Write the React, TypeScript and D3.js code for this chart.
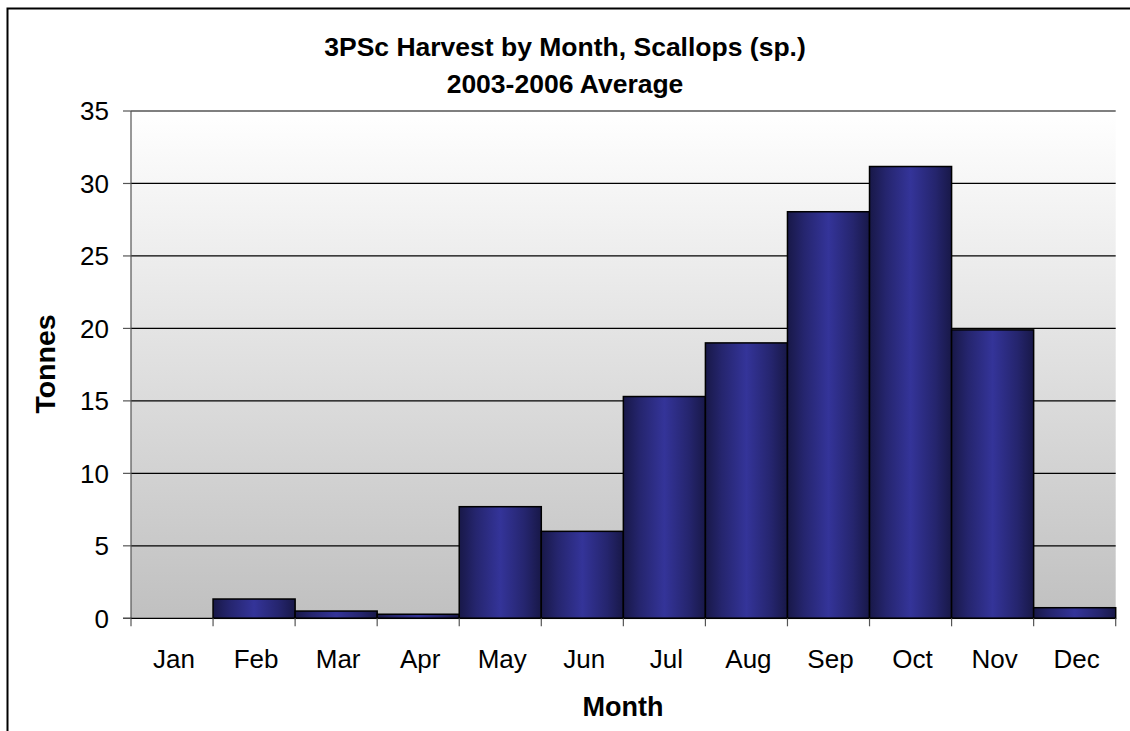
import React from "react";
import * as d3 from "d3";

const months = ["Jan", "Feb", "Mar", "Apr", "May", "Jun", "Jul", "Aug", "Sep", "Oct", "Nov", "Dec"];
const tonnes = [0, 1.33, 0.5, 0.28, 7.7, 6.0, 15.3, 19.0, 28.05, 31.17, 19.9, 0.73];
const yTicks = [0, 5, 10, 15, 20, 25, 30, 35];
const titleLines = ["3PSc Harvest by Month, Scallops (sp.)", "2003-2006 Average"];
const xTitle = "Month";
const yTitle = "Tonnes";

const W = 1130;
const H = 731;
const left = 131;
const right = 1115.7;
const top = 111;
const bottom = 618.3;
const font = "Arial, 'Liberation Sans', sans-serif";

export default function App() {
  const x = d3.scaleBand<string>().domain(months).range([left, right]).padding(0);
  const y = d3.scaleLinear().domain([0, 35]).range([bottom, top]);
  const bw = x.bandwidth();

  return (
    <svg width={W} height={H} style={{ position: "absolute", left: 0, top: 0 }}>
      <defs>
        <linearGradient id="bg" x1="0" y1="0" x2="0" y2="1">
          <stop offset="0" stopColor="#ffffff" />
          <stop offset="1" stopColor="#c0c0c0" />
        </linearGradient>
        <linearGradient id="bar" x1="0" y1="0" x2="1" y2="0">
          <stop offset="0" stopColor="#181848" />
          <stop offset="0.2" stopColor="#25256e" />
          <stop offset="0.5" stopColor="#343499" />
          <stop offset="0.8" stopColor="#25256e" />
          <stop offset="1" stopColor="#181848" />
        </linearGradient>
      </defs>
      <rect x={0} y={0} width={W} height={H} fill="#ffffff" />
      <rect x={7.5} y={8.5} width={W + 20} height={H + 20} fill="none" stroke="#000" strokeWidth={2} />
      <rect x={left} y={top} width={right - left} height={bottom - top} fill="url(#bg)" />
      {yTicks.filter((t) => t > 0).map((t) => (
        <line key={"g" + t} x1={left} x2={right} y1={y(t)} y2={y(t)} stroke="#000" strokeWidth={1.2} />
      ))}
      {months.map((m, i) =>
        tonnes[i] > 0 ? (
          <rect
            key={m}
            x={x(m)!}
            y={y(tonnes[i])}
            width={bw}
            height={y(0) - y(tonnes[i])}
            fill="url(#bar)"
            stroke="#000"
            strokeWidth={1.5}
          />
        ) : null
      )}
      <line x1={left} x2={left} y1={top} y2={bottom} stroke="#555" strokeWidth={1.2} />
      <line x1={left - 8} x2={right} y1={bottom} y2={bottom} stroke="#000" strokeWidth={1.2} />
      {yTicks.map((t) => (
        <g key={"t" + t}>
          <line x1={left - 8} x2={left} y1={y(t)} y2={y(t)} stroke="#555" strokeWidth={1.2} />
          <text x={109} y={y(t)} dy="0.36em" textAnchor="end" fontFamily={font} fontSize={26} fill="#000">
            {t}
          </text>
        </g>
      ))}
      {d3.range(months.length + 1).map((i) => (
        <line key={"xt" + i} x1={left + i * bw} x2={left + i * bw} y1={bottom} y2={bottom + 8} stroke="#555" strokeWidth={1.2} />
      ))}
      {months.map((m) => (
        <text key={"l" + m} x={x(m)! + bw / 2 + 2} y={668} textAnchor="middle" fontFamily={font} fontSize={26} fill="#000">
          {m}
        </text>
      ))}
      {titleLines.map((l, i) => (
        <text key={"ti" + i} x={565} y={56 + i * 37} textAnchor="middle" fontFamily={font} fontSize={26.5} fontWeight="bold" fill="#000">
          {l}
        </text>
      ))}
      <text x={623} y={716} textAnchor="middle" fontFamily={font} fontSize={27} fontWeight="bold" fill="#000">
        {xTitle}
      </text>
      <text
        transform={`translate(55,364) rotate(-90)`}
        textAnchor="middle"
        fontFamily={font}
        fontSize={28.5}
        fontWeight="bold"
        fill="#000"
      >
        {yTitle}
      </text>
    </svg>
  );
}
